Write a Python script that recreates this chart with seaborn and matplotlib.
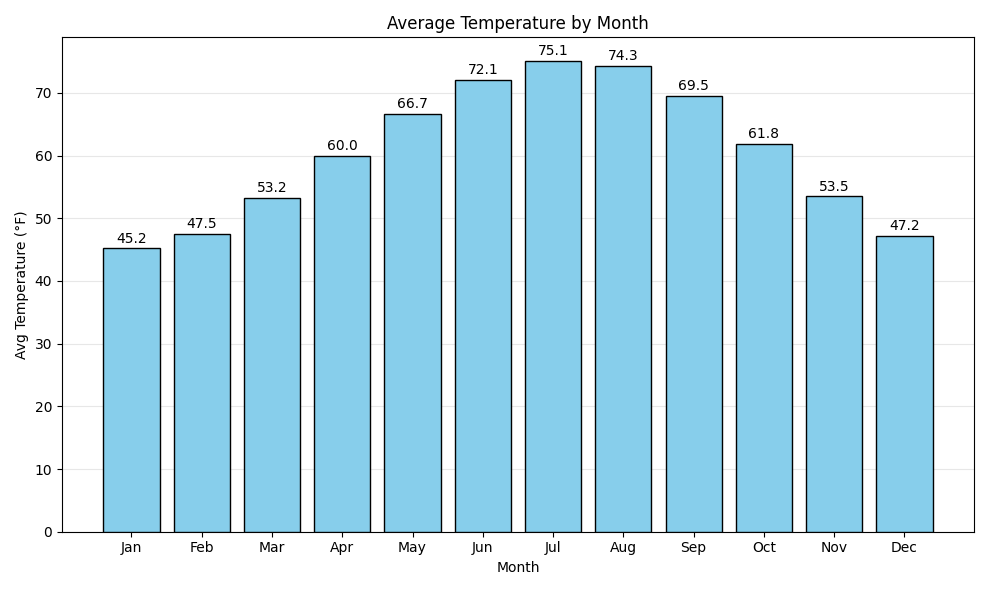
import matplotlib
matplotlib.use("Agg")
import matplotlib.pyplot as plt
import seaborn as sns

months = ["Jan", "Feb", "Mar", "Apr", "May", "Jun", "Jul", "Aug", "Sep", "Oct", "Nov", "Dec"]
temps = [45.2, 47.5, 53.2, 60.0, 66.7, 72.1, 75.1, 74.3, 69.5, 61.8, 53.5, 47.2]

fig, ax = plt.subplots(figsize=(9.89, 5.9), dpi=100)
sns.barplot(x=months, y=temps, color="skyblue", edgecolor="black",
            saturation=1, width=0.8, ax=ax, zorder=3)
ax.bar_label(ax.containers[0], fmt="%.1f", padding=2)
ax.set_title("Average Temperature by Month")
ax.set_xlabel("Month")
ax.set_ylabel("Avg Temperature (°F)")
ax.grid(axis="y", alpha=0.3, zorder=0)
ax.set_axisbelow(True)
ax.set_xlim(-0.99, 11.99)
plt.tight_layout()
plt.savefig("out.png")
